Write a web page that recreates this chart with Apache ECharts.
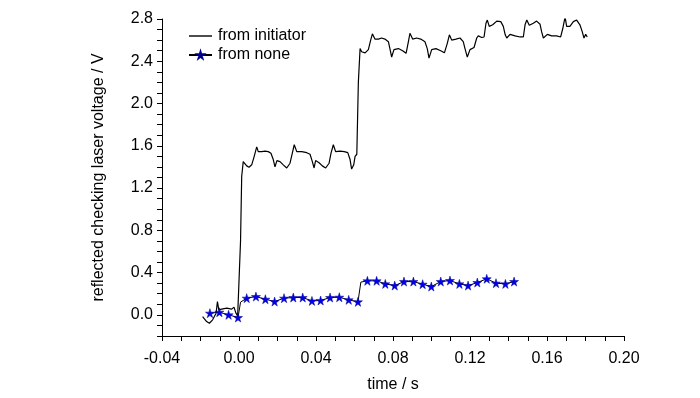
<!DOCTYPE html>
<html>
<head>
<meta charset="utf-8">
<script src="https://cdn.jsdelivr.net/npm/echarts@6/dist/echarts.min.js"></script>
<style>
html, body { margin: 0; padding: 0; background: #fff; }
#chart { width: 700px; height: 398px; }
</style>
</head>
<body>
<div id="chart"></div>
<script>
// time / s and voltage / V
var initiatorTime = [
    -0.0189, -0.0168, -0.0154, -0.0137, -0.0119, -0.0112, -0.0105, -0.0090, -0.0064, -0.0038,
    -0.0026, -0.0016, -0.0007, 0.0000, 0.0008, 0.0014, 0.0022, 0.0031, 0.0040, 0.0052,
    0.0066, 0.0079, 0.0092, 0.0100, 0.0118, 0.0135, 0.0152, 0.0166, 0.0178, 0.0187,
    0.0197, 0.0213, 0.0230, 0.0248, 0.0265, 0.0277, 0.0287, 0.0300, 0.0326, 0.0352,
    0.0369, 0.0381, 0.0390, 0.0398, 0.0416, 0.0433, 0.0450, 0.0468, 0.0478, 0.0490,
    0.0502, 0.0525, 0.0547, 0.0565, 0.0577, 0.0585, 0.0596, 0.0603, 0.0612, 0.0620,
    0.0629, 0.0637, 0.0655, 0.0672, 0.0684, 0.0693, 0.0706, 0.0724, 0.0741, 0.0758,
    0.0776, 0.0784, 0.0793, 0.0805, 0.0828, 0.0850, 0.0868, 0.0880, 0.0888, 0.0902,
    0.0923, 0.0944, 0.0966, 0.0978, 0.0987, 0.1001, 0.1023, 0.1048, 0.1067, 0.1082,
    0.1093, 0.1105, 0.1127, 0.1148, 0.1165, 0.1174, 0.1186, 0.1200, 0.1221, 0.1235,
    0.1243, 0.1261, 0.1273, 0.1283, 0.1290, 0.1300, 0.1318, 0.1339, 0.1360, 0.1373,
    0.1383, 0.1391, 0.1408, 0.1434, 0.1460, 0.1477, 0.1486, 0.1495, 0.1508, 0.1529,
    0.1546, 0.1564, 0.1572, 0.1581, 0.1602, 0.1624, 0.1650, 0.1671, 0.1682, 0.1694,
    0.1702, 0.1719, 0.1737, 0.1754, 0.1771, 0.1783, 0.1792, 0.1801, 0.1809
];
var initiatorVolt = [
    -0.016, -0.063, -0.079, -0.047, 0.016, 0.126, 0.047, 0.054, 0.063, 0.054,
    0.073, 0.016, -0.010, 0.000, 0.700, 1.310, 1.450, 1.435, 1.410, 1.397,
    1.420, 1.500, 1.590, 1.545, 1.545, 1.550, 1.545, 1.530, 1.470, 1.400,
    1.460, 1.450, 1.420, 1.390, 1.435, 1.530, 1.610, 1.545, 1.545, 1.535,
    1.520, 1.450, 1.390, 1.460, 1.440, 1.410, 1.390, 1.435, 1.530, 1.610,
    1.545, 1.550, 1.545, 1.535, 1.470, 1.380, 1.420, 1.500, 1.520, 2.200,
    2.520, 2.490, 2.480, 2.510, 2.600, 2.660, 2.610, 2.610, 2.620, 2.610,
    2.585, 2.520, 2.440, 2.510, 2.520, 2.500, 2.475, 2.585, 2.665, 2.610,
    2.620, 2.610, 2.585, 2.520, 2.430, 2.510, 2.520, 2.500, 2.480, 2.570,
    2.650, 2.600, 2.610, 2.620, 2.585, 2.520, 2.440, 2.510, 2.530, 2.620,
    2.640, 2.625, 2.630, 2.760, 2.790, 2.730, 2.745, 2.780, 2.775, 2.730,
    2.650, 2.620, 2.655, 2.640, 2.630, 2.630, 2.745, 2.790, 2.740, 2.760,
    2.780, 2.750, 2.680, 2.620, 2.655, 2.640, 2.640, 2.630, 2.710, 2.820,
    2.730, 2.730, 2.775, 2.790, 2.745, 2.680, 2.620, 2.655, 2.630
];

// star-marked trace; starred = 0 marks a line-only point
var noneTime = [
    -0.0151, -0.0102, -0.0054, -0.0005, 0.0003, 0.0008, 0.0040, 0.0088, 0.0137, 0.0185,
    0.0234, 0.0282, 0.0331, 0.0379, 0.0424, 0.0473, 0.0521, 0.0570, 0.0618, 0.0627,
    0.0633, 0.0667, 0.0715, 0.0760, 0.0809, 0.0857, 0.0906, 0.0954, 0.0999, 0.1048,
    0.1096, 0.1145, 0.1190, 0.1238, 0.1287, 0.1335, 0.1384, 0.1429
];
var noneVolt = [
    0.016, 0.025, 0.000, -0.025, -0.020, 0.120, 0.158, 0.173, 0.148, 0.126,
    0.158, 0.164, 0.164, 0.132, 0.136, 0.164, 0.167, 0.142, 0.123, 0.120,
    0.310, 0.322, 0.322, 0.293, 0.277, 0.315, 0.315, 0.290, 0.268, 0.315,
    0.325, 0.293, 0.277, 0.306, 0.341, 0.300, 0.293, 0.315
];
var noneStarred = [
    1, 1, 1, 1, 0, 0, 1, 1, 1, 1,
    1, 1, 1, 1, 1, 1, 1, 1, 1, 0,
    0, 1, 1, 1, 1, 1, 1, 1, 1, 1,
    1, 1, 1, 1, 1, 1, 1, 1
];

var seriesNames = ['from initiator', 'from none'];

var starPath = 'path://M50,0 L61,35 L98,35 L68,57 L79,91 L50,70 L21,91 L32,57 L2,35 L39,35 Z';
var linePath = 'path://M0,0 L23,0 L23,1.4 L0,1.4 Z';
var font = 'Liberation Sans, Arial, sans-serif';

var initiatorData = initiatorTime.map(function (t, i) {
    return [t, initiatorVolt[i]];
});
var noneData = noneTime.map(function (t, i) {
    var item = { value: [t, noneVolt[i]] };
    if (!noneStarred[i]) {
        item.symbol = 'none';
    }
    return item;
});

var myChart = echarts.init(document.getElementById('chart'), null, { renderer: 'canvas' });

var option = {
    animation: false,
    backgroundColor: '#fff',
    textStyle: { fontFamily: font },
    grid: {
        left: 162,
        right: 76,
        top: 19,
        bottom: 60
    },
    legend: {
        orient: 'vertical',
        left: 183,
        top: 23,
        itemWidth: 23,
        itemHeight: 8,
        itemGap: 3,
        data: [
            { name: seriesNames[0], icon: linePath, itemStyle: { color: '#000' } },
            { name: seriesNames[1] }
        ],
        textStyle: {
            fontFamily: font,
            fontSize: 16,
            color: '#000',
            padding: [0, 0, 0, 1]
        }
    },
    xAxis: {
        type: 'value',
        min: -0.04,
        max: 0.20,
        interval: 0.01,
        name: 'time / s',
        nameLocation: 'middle',
        nameGap: 41,
        nameTextStyle: { fontFamily: font, fontSize: 16, color: '#000' },
        splitLine: { show: false },
        axisLine: { onZero: false, lineStyle: { color: '#000', width: 1 } },
        axisTick: { length: 5, lineStyle: { color: '#000' } },
        axisLabel: {
            margin: 15,
            fontFamily: font,
            fontSize: 16,
            color: '#000',
            formatter: function (v) {
                var k = Math.round(v * 100);
                return k % 4 === 0 ? (k / 100).toFixed(2) : '';
            }
        }
    },
    yAxis: {
        type: 'value',
        min: -0.2,
        max: 2.8,
        interval: 0.1,
        name: 'reflected checking laser voltage / V',
        nameLocation: 'middle',
        nameGap: 55,
        nameTextStyle: { fontFamily: font, fontSize: 16, color: '#000' },
        splitLine: { show: false },
        axisLine: { show: true, onZero: false, lineStyle: { color: '#000', width: 1 } },
        axisTick: { show: true, length: 5, lineStyle: { color: '#000' } },
        axisLabel: {
            margin: 9,
            fontFamily: font,
            fontSize: 16,
            color: '#000',
            formatter: function (v) {
                var k = Math.round(v * 10);
                return (k >= 0 && k % 4 === 0) ? (k / 10).toFixed(1) : '';
            }
        }
    },
    series: [
        {
            name: seriesNames[0],
            type: 'line',
            symbol: 'none',
            lineStyle: { color: '#000', width: 1.2 },
            itemStyle: { color: '#000' },
            data: initiatorData,
            z: 2
        },
        {
            name: seriesNames[1],
            type: 'line',
            symbol: starPath,
            symbolSize: 9,
            lineStyle: { color: '#000', width: 1 },
            itemStyle: { color: '#0000ee', borderColor: '#00008b', borderWidth: 0.5 },
            data: noneData,
            z: 3
        }
    ]
};

myChart.setOption(option);
</script>
</body>
</html>
